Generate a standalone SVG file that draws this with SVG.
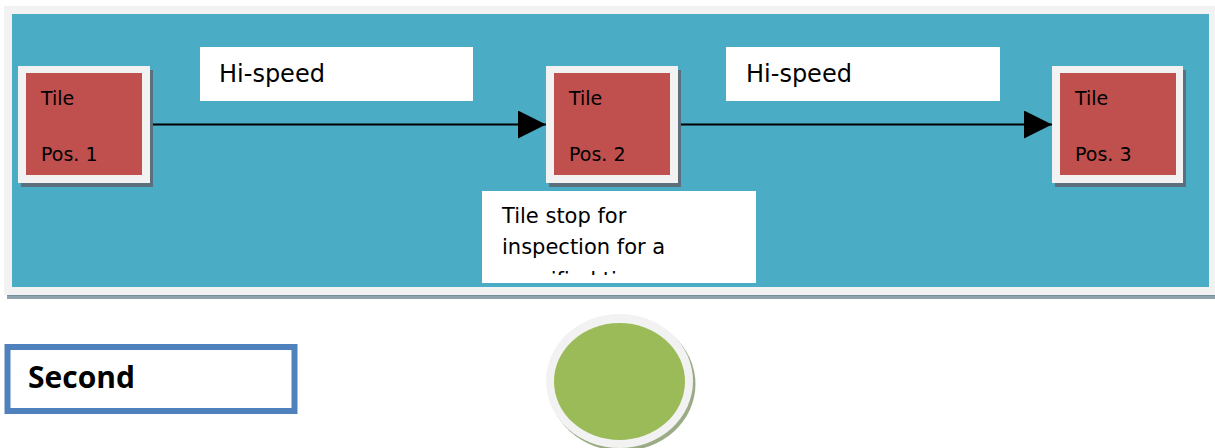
<svg xmlns="http://www.w3.org/2000/svg" width="1215" height="448" viewBox="0 0 1215 448">
<style>
.tile-frame{fill:#F2F2F2}
.tile-shadow{fill:#5B6F7C}
.tile-fill{fill:#C0504D}
.tile-text{font-family:"DejaVu Sans",Verdana,sans-serif;font-size:19px;fill:#000}
.label-box{fill:#FFFFFF}
.label-text{font-family:"DejaVu Sans",Verdana,sans-serif;font-size:24px;fill:#000}
.note-text{font-family:"DejaVu Sans",Verdana,sans-serif;font-size:21px;fill:#000}
.conn{stroke:#000;stroke-width:2;fill:none}
</style>
<defs>
<marker id="arrow" markerWidth="28" markerHeight="28" refX="28" refY="14" orient="auto" markerUnits="userSpaceOnUse">
<path d="M0,0 L28,14 L0,28 Z" fill="#000"/>
</marker>
<clipPath id="noteClip"><rect x="482" y="191" width="274" height="84"/></clipPath>
</defs>
<rect width="1215" height="448" fill="#FFFFFF"/>
<g id="panel">
<rect x="7" y="294" width="1208" height="5" fill="#8FA4AE"/>
<rect x="7" y="294" width="1208" height="1.5" fill="#5F7882"/>
<rect x="4" y="6" width="1211" height="289" fill="#F2F2F2"/>
<rect x="12" y="14" width="1197" height="273" fill="#4BACC6"/>
</g>
<g id="label-hispeed-1">
<rect class="label-box" x="200" y="47" width="273" height="54"/>
<text class="label-text" x="219" y="82">Hi-speed</text>
</g>
<g id="label-hispeed-2">
<rect class="label-box" x="726" y="47" width="274" height="54"/>
<text class="label-text" x="746" y="82">Hi-speed</text>
</g>
<g id="connectors">
<line class="conn" x1="150" y1="124.5" x2="546" y2="124.5" marker-end="url(#arrow)"/>
<line class="conn" x1="678" y1="124.5" x2="1052" y2="124.5" marker-end="url(#arrow)"/>
</g>
<g id="tile-1">
<rect class="tile-shadow" x="21" y="70" width="132" height="117"/>
<rect class="tile-frame" x="18" y="66" width="132" height="117"/>
<rect class="tile-fill" x="26" y="73" width="116" height="102"/>
<text class="tile-text" x="41" y="105">Tile</text>
<text class="tile-text" x="41" y="161">Pos. 1</text>
</g>
<g id="tile-2">
<rect class="tile-shadow" x="549" y="70" width="132" height="117"/>
<rect class="tile-frame" x="546" y="66" width="132" height="117"/>
<rect class="tile-fill" x="554" y="73" width="116" height="102"/>
<text class="tile-text" x="569" y="105">Tile</text>
<text class="tile-text" x="569" y="161">Pos. 2</text>
</g>
<g id="tile-3">
<rect class="tile-shadow" x="1055" y="70" width="131" height="117"/>
<rect class="tile-frame" x="1052" y="66" width="131" height="117"/>
<rect class="tile-fill" x="1060" y="73" width="116" height="102"/>
<text class="tile-text" x="1075" y="105">Tile</text>
<text class="tile-text" x="1075" y="161">Pos. 3</text>
</g>
<g id="note-inspection">
<rect class="label-box" x="482" y="191" width="274" height="92"/>
<g clip-path="url(#noteClip)">
<text class="note-text" x="502" y="223">Tile stop for</text>
<text class="note-text" x="502" y="254">inspection for a</text>
<text class="note-text" x="502" y="287">specified time</text>
</g>
</g>
<g id="second">
<rect x="7.5" y="347" width="287" height="64" fill="#FFFFFF" stroke="#4F81BD" stroke-width="6"/>
<text x="28" y="388" font-family="'Open Sans','DejaVu Sans',sans-serif" font-weight="bold" font-size="30" fill="#000">Second</text>
</g>
<g id="circle">
<ellipse cx="622" cy="384" rx="73.5" ry="67" fill="#9AAB86"/>
<ellipse cx="619.5" cy="381" rx="73.5" ry="67" fill="#F2F2F2"/>
<ellipse cx="619.5" cy="381.5" rx="65.5" ry="58.5" fill="#9BBB59"/>
</g>
</svg>
